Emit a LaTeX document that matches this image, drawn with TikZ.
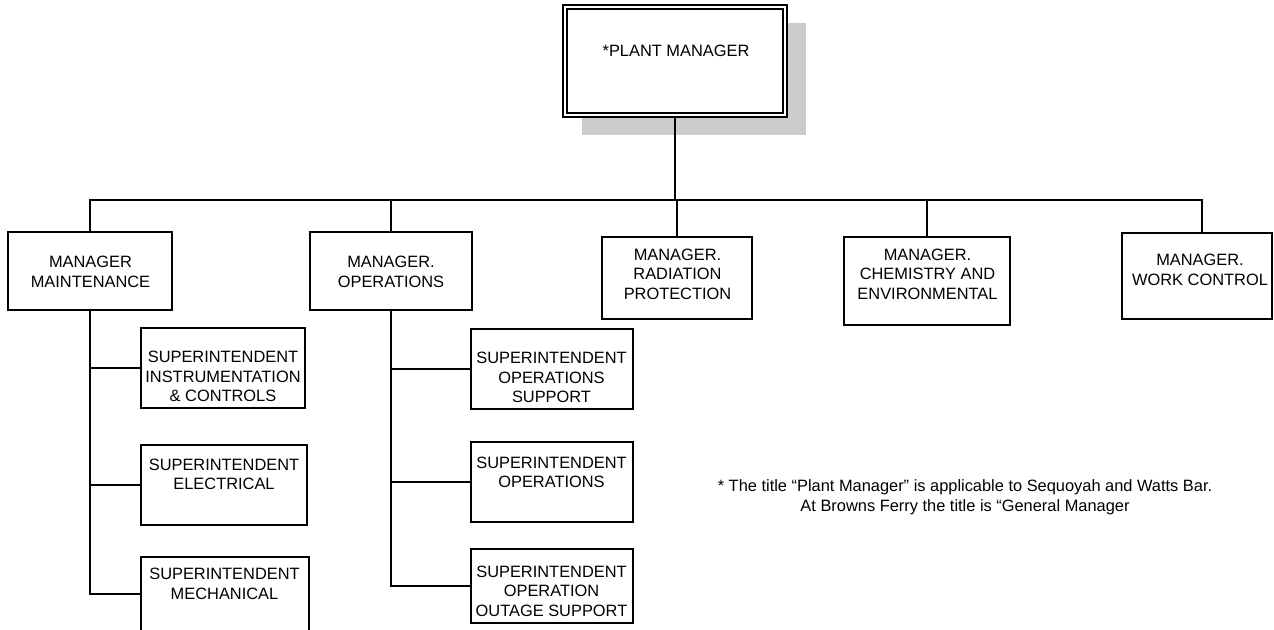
\documentclass[tikz,border=0pt]{standalone}
\usepackage{fontspec}
\setmainfont{Liberation Sans}
\begin{document}
\begin{tikzpicture}[x=1pt,y=-1pt,
  box/.style={draw, line width=2pt, rectangle, inner sep=0pt},
  lbl/.style={align=center, inner sep=0pt, font=\fontsize{16.4}{19.5}\selectfont},
  conn/.style={line width=2pt}]
\useasboundingbox (0,0) rectangle (1274,629);
% plant manager
\node[rectangle, fill=black!20, inner sep=0pt, minimum width=224pt, minimum height=112pt] (pmshadow) at (694,79) {};
\node[box, fill=white, minimum width=224pt, minimum height=112pt] (pm) at (675,61) {};
\node[box, minimum width=216pt, minimum height=104pt] (pmin) at (675,61) {};
\node[lbl] (pmt) at (676,51) {*PLANT MANAGER};
% managers
\node[box, minimum width=164pt, minimum height=78pt] (mm) at (90,271) {};
\node[lbl] (mmt) at (90.5,272) {MANAGER\\MAINTENANCE};
\node[box, minimum width=162pt, minimum height=78pt] (mo) at (391,271) {};
\node[lbl] (mot) at (391,272) {MANAGER.\\OPERATIONS};
\node[box, minimum width=150pt, minimum height=82pt] (mr) at (677,278) {};
\node[lbl] (mrt) at (677.5,274) {MANAGER.\\RADIATION\\PROTECTION};
\node[box, minimum width=166pt, minimum height=88pt] (mc) at (927,281) {};
\node[lbl] (mct) at (927.5,274) {MANAGER.\\CHEMISTRY AND\\ENVIRONMENTAL};
\node[box, minimum width=150pt, minimum height=86pt] (mw) at (1197,276) {};
\node[lbl] (mwt) at (1200,270) {MANAGER.\\WORK CONTROL};
% superintendents
\node[box, minimum width=164pt, minimum height=80pt] (si) at (223,368) {};
\node[lbl] (sit) at (223,376.5) {SUPERINTENDENT\\INSTRUMENTATION\\\& CONTROLS};
\node[box, minimum width=166pt, minimum height=80pt] (se) at (224,485) {};
\node[lbl] (set) at (224,474.5) {SUPERINTENDENT\\ELECTRICAL};
\node[box, minimum width=168pt, minimum height=74pt] (sm) at (225,594) {};
\node[lbl] (smt) at (224.5,584) {SUPERINTENDENT\\MECHANICAL};
\node[box, minimum width=162pt, minimum height=80pt] (sos) at (552,369) {};
\node[lbl] (sost) at (551.5,377.5) {SUPERINTENDENT\\OPERATIONS\\SUPPORT};
\node[box, minimum width=162pt, minimum height=80pt] (soo) at (552,482) {};
\node[lbl] (soot) at (551.5,472.5) {SUPERINTENDENT\\OPERATIONS};
\node[box, minimum width=162pt, minimum height=74pt] (sou) at (552,586) {};
\node[lbl] (sout) at (551.5,591) {SUPERINTENDENT\\OPERATION\\OUTAGE SUPPORT};
% note
\node[lbl] (note) at (965,497.5) {* The title “Plant Manager” is applicable to Sequoyah and Watts Bar.\\At Browns Ferry the title is “General Manager};
% connectors
\coordinate (busL) at (90,200);
\coordinate (busR) at (1202,200);
\draw[conn] (pm.south) -- (pm.south |- busL);
\draw[conn] (mm.north) -- (busL) -- (busR) -- (busR |- mw.north);
\draw[conn] (mo.north) -- (mo.north |- busL);
\draw[conn] (mr.north) -- (mr.north |- busL);
\draw[conn] (mc.north) -- (mc.north |- busL);
\draw[conn] (mm.south) -- (mm.south |- sm.west) -- (sm.west);
\draw[conn] (mm.south |- si.west) -- (si.west);
\draw[conn] (mm.south |- se.west) -- (se.west);
\draw[conn] (mo.south) -- (mo.south |- sou.west) -- (sou.west);
\draw[conn] (mo.south |- sos.west) -- (sos.west);
\draw[conn] (mo.south |- soo.west) -- (soo.west);
\end{tikzpicture}
\end{document}
